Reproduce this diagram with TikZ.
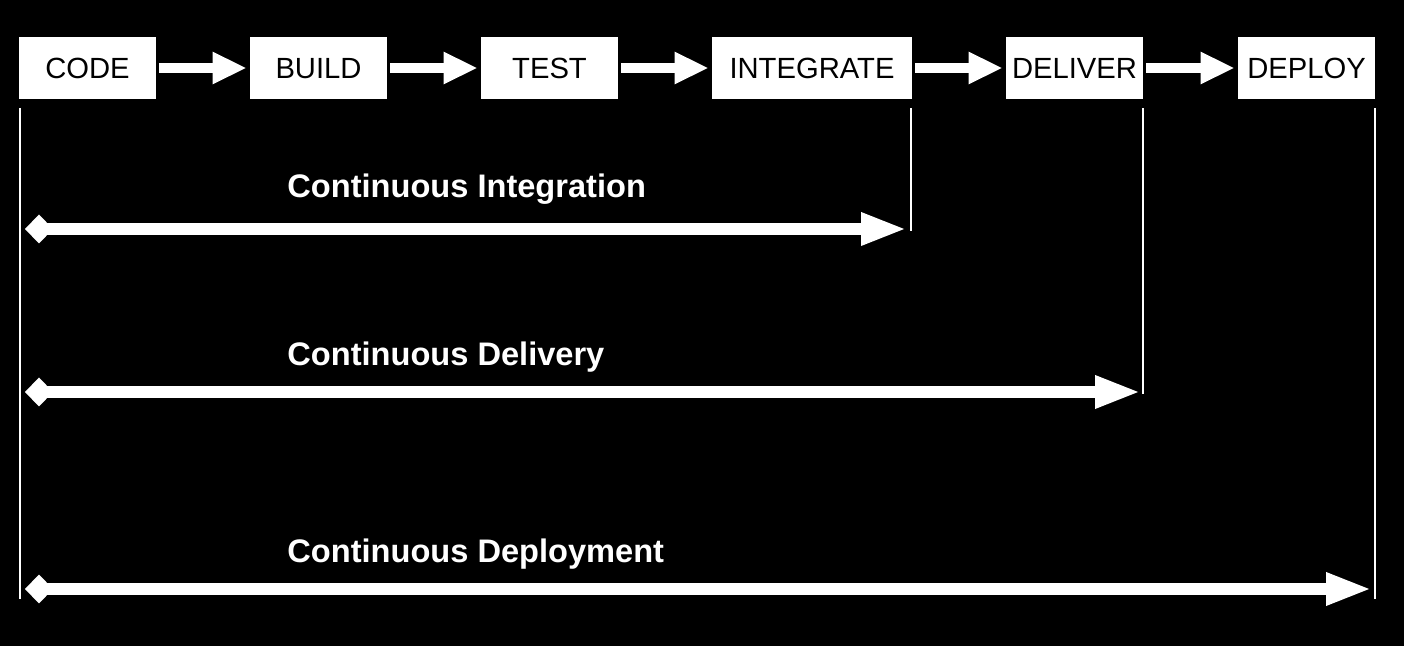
\documentclass[tikz,border=0pt]{standalone}
\usepackage{fontspec}
\setmainfont{Liberation Sans}
\usetikzlibrary{arrows.meta}

\tikzset{
    stage/.style={fill=white, text=black, minimum height=31pt, inner sep=0pt,
        font=\fontsize{14.6}{16}\selectfont, text height=10.4pt, text depth=0pt},
    flow/.style={white, line width=5pt, shorten <=1.5pt, shorten >=1.5pt,
        -{Triangle[length=17pt, width=15pt]}},
    guide/.style={white, line width=1pt},
    span/.style={white, line width=6pt,
        {Diamond[length=14pt, width=14.5pt]}-{Triangle[length=23pt, width=15pt]}},
    phase/.style={text=white, inner sep=0pt, font=\bfseries\fontsize{16.3}{19}\selectfont}
}

\begin{document}
\begin{tikzpicture}[x=0.5pt, y=-0.5pt]
        \fill[black] (0,0) rectangle (1404,646);
        \useasboundingbox (0,0) rectangle (1404,646);

        % pipeline stages
        \foreach \name/\txt/\x/\w in {code/CODE/87.5/68.5, build/BUILD/318.5/68.5,
            test/TEST/549.5/68.5, integrate/INTEGRATE/812/100,
            deliver/DELIVER/1074.5/68.5, deploy/DEPLOY/1306.5/68.5} {
            \node[stage, minimum width=\w pt] (\name) at (\x,68) {\txt};
        }
        \foreach \a/\b in {code/build, build/test, test/integrate, integrate/deliver, deliver/deploy} {
            \draw[flow] (\a) -- (\b);
        }

        % guide lines
        \coordinate (code foot) at (20,599);
        \coordinate (integrate foot) at (911,231);
        \coordinate (deliver foot) at (1143,394);
        \coordinate (deploy foot) at (1375,599);
        \draw[guide] (code foot |- 0,108) -- (code foot);
        \draw[guide] (integrate foot |- integrate.south) ++(0,9) -- (integrate foot);
        \draw[guide] (deliver foot |- deliver.south) ++(0,9) -- (deliver foot);
        \draw[guide] (deploy foot |- deploy.south) ++(0,9) -- (deploy foot);

        % spans
        \foreach \lbl/\txt/\y/\base/\tip in {ci/Continuous Integration/229/198/907,
            cd/Continuous Delivery/392/366/1141,
            cdep/Continuous Deployment/589/563/1372} {
            \node[phase, anchor=base west] (\lbl label) at (287,\base) {\txt};
            \coordinate (\lbl start) at (25,\y);
            \coordinate (\lbl end) at (\tip,\y);
            \draw[span] (\lbl start) -- (\lbl end);
        }
    \end{tikzpicture}
\end{document}
